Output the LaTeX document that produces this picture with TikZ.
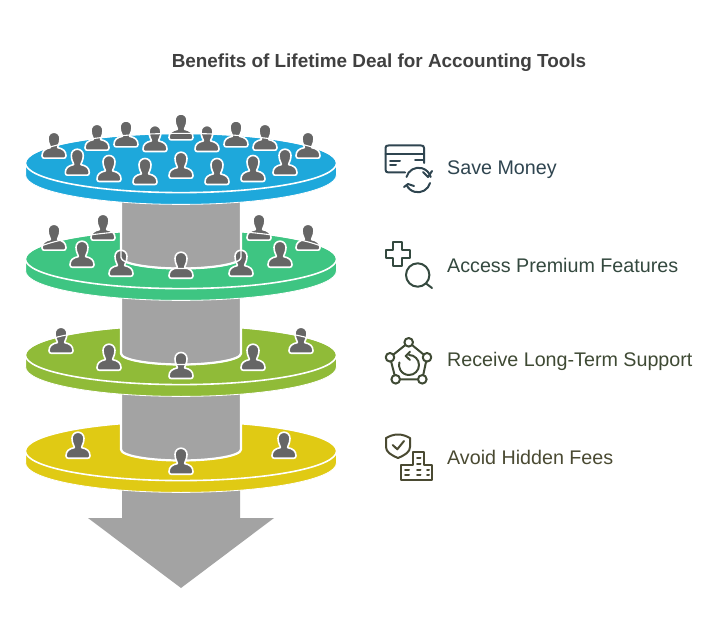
\documentclass[tikz,border=0pt]{standalone}
\usepackage{fontspec}
\setmainfont{Liberation Sans}
\definecolor{pers}{HTML}{666666}
\definecolor{cyl}{HTML}{A3A3A3}
\definecolor{cblue}{HTML}{1EA8DB}
\definecolor{cgreen}{HTML}{3EC582}
\definecolor{colive}{HTML}{90BB38}
\definecolor{cyellow}{HTML}{E0CA14}
\definecolor{tblue}{HTML}{2F4550}
\definecolor{tgreen}{HTML}{34493F}
\definecolor{tolive}{HTML}{3F4A34}
\definecolor{tyell}{HTML}{4A4A32}
\tikzset{x=1pt,y=-1pt,
 lab/.style={anchor=west,font=\fontsize{19.7}{22}\selectfont,inner sep=0pt},
 ico/.style={line width=2pt,line cap=round,line join=round},
 pics/person/.style={code={
  \filldraw[fill=pers,draw=white,line width=1.6pt,line join=round]
     (-12,-3.2) .. controls (-12,-8) and (-9,-10.3) .. (-3.6,-11.4)
     .. controls (-3.6,-13) and (-6,-15.5) .. (-6,-20.5) .. controls (-6,-24.3) and (-3.3,-26.8) .. (0,-26.8)
     .. controls (3.3,-26.8) and (6,-24.3) .. (6,-20.5) .. controls (6,-15.5) and (3.6,-13) .. (3.6,-11.4)
     .. controls (9,-10.3) and (12,-8) .. (12,-3.2) .. controls (12,-1.5) and (11,-0.8) .. (9.8,-0.8)
     -- (-9.8,-0.8) .. controls (-11,-0.8) and (-12,-1.5) .. (-12,-3.2) -- cycle;
 }},
}
\newcommand{\pers}[2]{\pic at (#1,#2) {person};}
\newcommand{\disk}[2]{%
 \filldraw[fill=#2,draw=white,line width=0.8pt] (25.6,#1) -- (25.6,#1+12) arc[x radius=155.4,y radius=29.4,start angle=180,end angle=0] -- (336.4,#1) -- cycle;
 \filldraw[fill=#2,draw=white,line width=1.6pt] (181,#1) ellipse[x radius=155.6,y radius=29.6];
}
\newcommand{\diskedge}[3]{\draw[white,line width=1.1pt] (25.4,#1) arc[x radius=155.6,y radius=29.6,start angle=180,end angle=#2];
 \draw[white,line width=1.1pt] (336.6,#1) arc[x radius=155.6,y radius=29.6,start angle=0,end angle=#3];}
\newcommand{\cylseg}[2]{% top y, rim side y
 \filldraw[fill=cyl,draw=white,line width=2.2pt] (121,#1) -- (121,#2) arc[x radius=60,y radius=11,start angle=180,end angle=0] -- (241,#1) -- cycle;
 }
\newcommand{\cylrim}[2]{\draw[white,line width=1.4pt] (121,#1) -- (121,#2) arc[x radius=60,y radius=11,start angle=180,end angle=0] -- (241,#1);}
\begin{document}
\begin{tikzpicture}
\useasboundingbox (0,0) rectangle (723,639);
\fill[white] (0,0) rectangle (723,639);
\node[anchor=center,inner sep=0pt,font=\bfseries\fontsize{18.9}{22}\selectfont,text=black!75!white] (title) at (379,62.5) {Benefits of Lifetime Deal for Accounting Tools};
% arrow
\fill[cyl] (122,490) -- (240,490) -- (240,518) -- (274,518) -- (181,588) -- (88,518) -- (122,518) -- cycle;
% disks and shafts
\disk{451}{cyellow}
\cylseg{392}{449.5}
\disk{355}{colive}
\cylseg{296}{353.5}
\disk{259}{cgreen}
\cylseg{200}{257.5}
\disk{163}{cblue}
% persons
\foreach \a/\b in {54/159,97/151,126/147.7,155/152.3,181/140.7,207/152.3,236/147.7,265/151,308/159,
  77.3/176,109/182.3,145/185.3,181/179,217/185.3,253/182.3,285/176,
  54/251,103/241,259/241,308/251,82/268,280/268,121/277,241/277,181/279,
  61/354,109/371,181/379.3,253/371,301/354,
  78/459,181/475,284/459} {\pers{\a}{\b}}
% edges passing over the persons
\diskedge{163}{270}{-90}
\diskedge{259}{247.3}{-67.3}
\diskedge{355}{247.3}{-67.3}
\cylrim{232}{257.5}
\cylrim{328}{353.5}
% icon 1
\begin{scope}[ico]
\draw[tblue] (405,172.5) -- (388.5,172.5) .. controls (386.5,172.5) and (385.5,171.5) .. (385.5,169.5) -- (385.5,148) .. controls (385.5,146) and (386.5,145.5) .. (388.5,145.5) -- (421,145.5) .. controls (423,145.5) and (424,146) .. (424,148) -- (424,163);
\draw[tblue] (385.5,154) -- (424,154);
\draw[tblue] (390,160.7) -- (400,160.7) (390,165) -- (396,165) (415,160.5) -- (423,160.5);
\draw[tblue] (406.5,177) arc[radius=12.5,start angle=195,end angle=345];
\draw[tblue] (430,183) arc[radius=12.5,start angle=15,end angle=155];
\draw[tblue] (423,172) -- (428,177) -- (432,171);
\draw[tblue] (404,187) -- (408,184) -- (414,186);
\end{scope}
\node[lab,text=tblue] (t1) at (447,169.5) {Save Money};
% icon 2
\begin{scope}[ico]
\draw[tgreen] (393,242) -- (402,242) -- (402,250) -- (410,250) -- (410,258) -- (402,258) -- (402,266) -- (393,266) -- (393,258) -- (386,258) -- (386,250) -- (393,250) -- cycle;
\draw[tgreen] (417.7,275) circle[radius=11.7];
\draw[tgreen] (426,283.5) -- (432,288);
\end{scope}
\node[lab,text=tgreen] (t2) at (447,265.5) {Access Premium Features};
% icon 3
\begin{scope}[ico]
\draw[tolive] (408.7,342.3) -- (427,357.3) -- (422.3,379.3) -- (395.7,379.3) -- (390,357.3) -- cycle;
\foreach \p in {(408.7,342.3),(390,357.3),(427,357.3),(395.7,379.3),(422.3,379.3)} \filldraw[fill=white,draw=tolive] \p circle[radius=4.3];
\draw[tolive] (409,355) arc[radius=10,start angle=-90,end angle=195];
\draw[tolive] (410,351.7) -- (405.7,356) -- (410,360);
\end{scope}
\node[lab,text=tolive] (t3) at (447,361.5) {Receive Long-Term Support};
% icon 4
\begin{scope}[ico]
\draw[tyell] (398,434.5) .. controls (393,434.5) and (390,436) .. (386,438) -- (386,447) .. controls (386,452) and (391,455) .. (398,458) .. controls (405,455) and (410,452) .. (410,447) -- (410,438) .. controls (406,436) and (403,434.5) .. (398,434.5) -- cycle;
\draw[tyell] (392.7,445) -- (397.3,449.3) -- (404,441);
\draw[tyell] (401,480) -- (401,465) -- (413,465) -- (413,452) -- (424,452) -- (424,465) -- (432,465) -- (432,480) -- cycle;
\draw[tyell] (405,470) -- (409,470) (405,475) -- (409,475) (417,458) -- (420.5,458) (417,464) -- (420.5,464) (417,470) -- (420.5,470) (417,475) -- (420.5,475) (427,470) -- (429,470) (427,475) -- (429,475);
\end{scope}
\node[lab,text=tyell] (t4) at (447,457.5) {Avoid Hidden Fees};
\end{tikzpicture}
\end{document}
